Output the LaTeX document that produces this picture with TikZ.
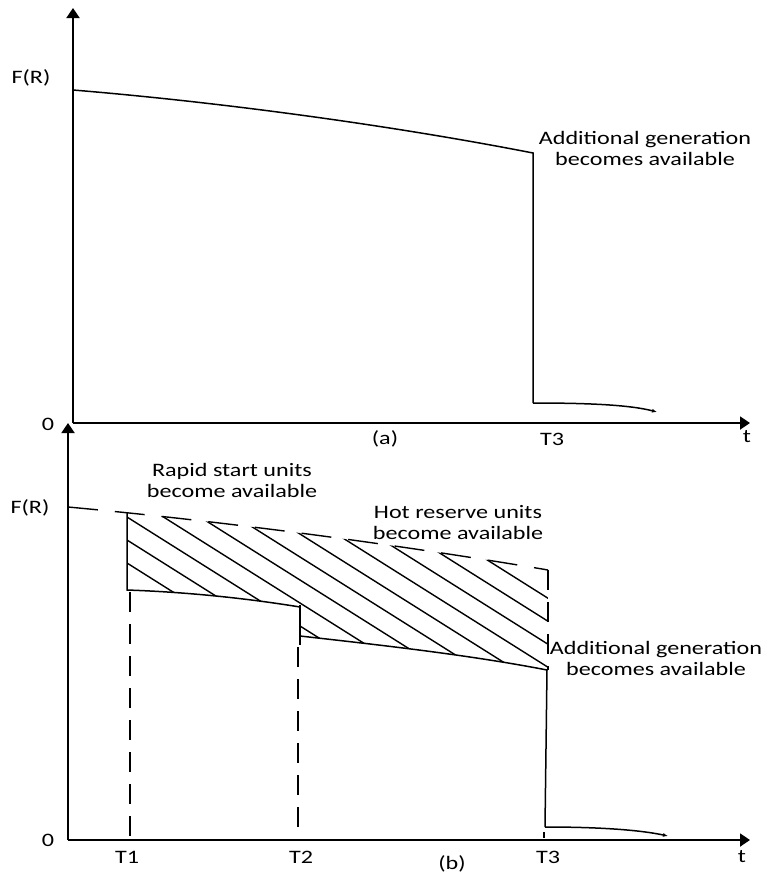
\documentclass[tikz,border=0pt]{standalone}
\usepackage{fontspec}
\setmainfont{Carlito}[FakeStretch=1.27]
\usetikzlibrary{arrows.meta}
\begin{document}
\begin{tikzpicture}[x=1pt,y=-1pt,
  axis/.style={line width=1.9pt,-{Triangle[length=10pt,width=13pt]}},
  curve/.style={line width=1.5pt},
  tailtip/.style={line width=1.5pt,-{Latex[length=5pt,width=4pt]}},
  guide/.style={line width=1.4pt,dash pattern=on 20pt off 12pt},
  topdash/.style={line width=1.4pt,dash pattern=on 30pt off 17pt},
  hatchline/.style={line width=1.4pt},
  lbl/.style={font=\fontsize{19}{21}\selectfont,align=center,inner sep=0pt}]
\useasboundingbox (0,0) rectangle (772,876);

% ---------- panel (a) ----------
\coordinate (aO) at (73,423);
\coordinate (aY) at (73,8);
\coordinate (aX) at (750,423);
\draw[axis] (aO) -- (aY);
\draw[axis] (aO) -- (aX);

\coordinate (aA) at (73,90);
\coordinate (aB) at (533,153);
\coordinate (aC) at (533,403);
\coordinate (aD) at (657,412);
\draw[curve] (aA) .. controls (230,103) and (400,127) .. (aB) -- (aC);
\draw[tailtip] (aC) .. controls (590,403) and (630,405) .. (aD);

\node[lbl] (aF)   at (31,78)   {F(R)};
\node[lbl] (aZ)   at (48,424)  {0};
\node[lbl] (aCap) at (385,439) {(a)};
\node[lbl] (aT3)  at (552,439) {T3};
\node[lbl] (at)   at (747,437) {t};
\node[lbl] (aGen) at (645,148) {Additional generation\\becomes available};

% ---------- panel (b) ----------
\coordinate (bO) at (68,840);
\coordinate (bY) at (68,423);
\coordinate (bX) at (750,840);
\draw[axis] (bO) -- (bY);
\draw[axis] (bO) -- (bX);

% hatched reserve band
\begin{scope}
  \clip (127,400) rectangle (548,700);
  \clip (68,507) .. controls (230,522) and (400,545) .. (548,570)
        -- (548,670) .. controls (470,655) and (380,645) .. (300,636)
        -- (300,607) .. controls (245,598) and (185,592) .. (127,590)
        -- (68,590) -- cycle;
  \foreach \c in {483,460,437,414,391,368,345,322,299,276,253}
    \draw[hatchline] (100,{0.63*100+\c}) -- (600,{0.63*600+\c});
\end{scope}

% upper dashed envelope
\coordinate (bE) at (68,507);
\coordinate (bF) at (548,570);
\draw[topdash] (bE) .. controls (230,522) and (400,545) .. (bF);

% stepped lower boundary
\coordinate (b1t) at (127,513);
\coordinate (b1b) at (127,590);
\coordinate (b2t) at (300,607);
\coordinate (b2b) at (300,636);
\coordinate (b3t) at (547,670);
\coordinate (b3b) at (545,827);
\coordinate (bTail) at (668,836);
\draw[curve] (b1t) -- (b1b) .. controls (185,592) and (245,598) .. (b2t);
\draw[curve] (300,605) -- (300,645);
\draw[curve] (b2b) .. controls (380,645) and (470,655) .. (b3t) -- (b3b);
\draw[tailtip] (b3b) .. controls (600,827) and (640,830) .. (bTail);

% dashed time markers
\draw[guide] (130,592) -- (130,840);
\draw[guide] (298,647) -- (298,840);
\draw[guide] (548,570) -- (548,670);
\draw[line width=1.4pt] (544,832) -- (544,838);

\node[lbl] (bF)   at (30,508)  {F(R)};
\node[lbl] (bZ)   at (48,840)  {0};
\node[lbl] (bT1)  at (127,857) {T1};
\node[lbl] (bT2)  at (301,857) {T2};
\node[lbl] (bT3)  at (548,857) {T3};
\node[lbl] (bt)   at (742,857) {t};
\node[lbl] (bCap) at (452,864) {(b)};
\node[lbl] (bRap) at (232,480) {Rapid start units\\become available};
\node[lbl] (bHot) at (458,523) {Hot reserve units\\become available};
\node[lbl] (bGen) at (656,658) {Additional generation\\becomes available};
\end{tikzpicture}
\end{document}
